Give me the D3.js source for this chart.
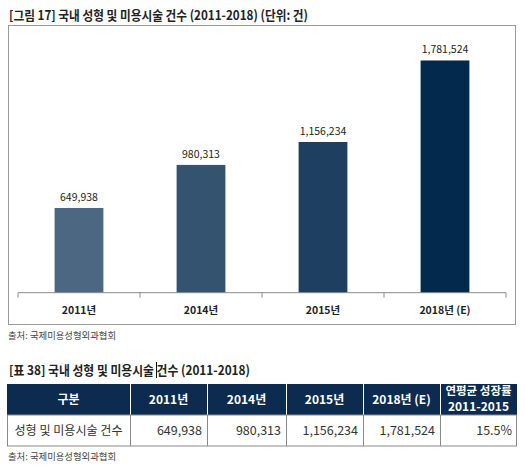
<!DOCTYPE html>
<html>
<head>
<meta charset="utf-8">
<script src="https://cdn.jsdelivr.net/npm/d3@7"></script>
<style>
  html, body { margin: 0; padding: 0; background: #fff; }
  svg { display: block; }
  text { font-family: "Noto Sans CJK KR", "Noto Sans", sans-serif; }
</style>
</head>
<body>
<svg id="chart" width="525" height="472"></svg>
<script>
// ---- data ----
const categories = ["2011년", "2014년", "2015년", "2018년 (E)"];
const values = [649938, 980313, 1156234, 1781524];
const barColors = ["#4b6782", "#33536f", "#1e3f5f", "#03294d"];
const tableHeaders = ["구분", "2011년", "2014년", "2015년", "2018년 (E)", "연평균 성장률|2011-2015"];
const tableRowLabel = "성형 및 미용시술 건수";
const tableValues = ["649,938", "980,313", "1,156,234", "1,781,524", "15.5%"];
const chartTitle = "[그림 17] 국내 성형 및 미용시술 건수 (2011-2018) (단위: 건)";
const tableTitle = "[표 38] 국내 성형 및 미용시술 건수 (2011-2018)";
const sourceText = "출처: 국제미용성형외과협회";

const svg = d3.select("#chart");
const fmt = d3.format(",");

// ---- chart title ----
svg.append("text").attr("x", 9).attr("y", 20)
  .attr("font-size", 13).attr("font-weight", 700).attr("fill", "#222")
  .attr("textLength", 299).attr("lengthAdjust", "spacingAndGlyphs")
  .text(chartTitle);

// ---- chart frame ----
svg.append("rect").attr("x", 8.5).attr("y", 25.5).attr("width", 507).attr("height", 299)
  .attr("fill", "none").attr("stroke", "#9a9a9a").attr("stroke-width", 1);

// ---- scales ----
const x = d3.scaleBand().domain(categories).range([18, 506]).paddingInner(0.6).paddingOuter(0.3);
const y = d3.scaleLinear().domain([0, 2000000]).range([292.7, 32]);

// bars
svg.append("g").selectAll("rect").data(values).join("rect")
  .attr("x", (d, i) => x(categories[i]))
  .attr("y", d => y(d))
  .attr("width", x.bandwidth())
  .attr("height", d => y(0) - y(d))
  .attr("fill", (d, i) => barColors[i]);

// value labels
svg.append("g").selectAll("text").data(values).join("text")
  .attr("x", (d, i) => x(categories[i]) + x.bandwidth() / 2)
  .attr("y", d => y(d) - 7)
  .attr("text-anchor", "middle").attr("font-size", 10.5).attr("fill", "#222")
  .attr("font-family", "'Open Sans', 'Noto Sans', sans-serif")
  .text(d => fmt(d));

// x axis
const axisBand = d3.scaleBand().domain(categories).range([18, 506]);
const axisG = svg.append("g").attr("transform", `translate(0,${y(0)})`);
axisG.append("line").attr("x1", 18).attr("x2", 506).attr("stroke", "#8a8a8a");
const tickXs = categories.map(c => axisBand(c)).concat([506]);
axisG.selectAll("line.tick").data(tickXs).join("line").attr("class", "tick")
  .attr("x1", d => d).attr("x2", d => d).attr("y1", 0).attr("y2", 5).attr("stroke", "#8a8a8a");
axisG.selectAll("text").data(categories).join("text")
  .attr("x", d => axisBand(d) + axisBand.bandwidth() / 2)
  .attr("y", 21.5)
  .attr("text-anchor", "middle").attr("font-size", 10.5).attr("font-weight", 700).attr("fill", "#222")
  .text(d => d);

// source 1
svg.append("text").attr("x", 8).attr("y", 339)
  .attr("font-size", 9.5).attr("fill", "#444")
  .attr("textLength", 108).attr("lengthAdjust", "spacingAndGlyphs")
  .text(sourceText);

// ---- table title ----
svg.append("text").attr("x", 9).attr("y", 375)
  .attr("font-size", 13).attr("font-weight", 700).attr("fill", "#222")
  .attr("textLength", 241).attr("lengthAdjust", "spacingAndGlyphs")
  .text(tableTitle);
// cursor artifact
svg.append("line").attr("x1", 156.5).attr("x2", 156.5).attr("y1", 362).attr("y2", 378)
  .attr("stroke", "#111").attr("stroke-width", 1);

// ---- table ----
const colEdges = [7, 130, 207, 286, 363, 440, 517];
const headTop = 384, headBot = 415, rowBot = 446;
const tg = svg.append("g");
tg.append("rect").attr("x", colEdges[0]).attr("y", headTop)
  .attr("width", colEdges[6] - colEdges[0]).attr("height", headBot - headTop).attr("fill", "#0c2b4f");
// header separators
tg.selectAll("line.hsep").data(colEdges.slice(1, 6)).join("line").attr("class", "hsep")
  .attr("x1", d => d + 0.5).attr("x2", d => d + 0.5).attr("y1", headTop).attr("y2", headBot)
  .attr("stroke", "#ffffff").attr("stroke-width", 1);
// header text
tableHeaders.forEach((h, i) => {
  const cx = (colEdges[i] + colEdges[i + 1]) / 2;
  const parts = h.split("|");
  if (parts.length === 1) {
    tg.append("text").attr("x", cx).attr("y", 404).attr("text-anchor", "middle")
      .attr("font-size", 12).attr("font-weight", 700).attr("fill", "#fff").text(h);
  } else {
    tg.append("text").attr("x", cx).attr("y", 395).attr("text-anchor", "middle")
      .attr("font-size", 11.5).attr("font-weight", 700).attr("fill", "#fff").text(parts[0]);
    tg.append("text").attr("x", cx).attr("y", 411).attr("text-anchor", "middle")
      .attr("font-size", 12).attr("font-weight", 700).attr("fill", "#fff").text(parts[1]);
  }
});
// data row borders
tg.append("rect").attr("x", colEdges[0] + 0.5).attr("y", headBot)
  .attr("width", colEdges[6] - colEdges[0] - 1).attr("height", rowBot - headBot)
  .attr("fill", "none").attr("stroke", "#8a8a8a");
tg.selectAll("line.dsep").data(colEdges.slice(1, 6)).join("line").attr("class", "dsep")
  .attr("x1", d => d + 0.5).attr("x2", d => d + 0.5).attr("y1", headBot).attr("y2", rowBot)
  .attr("stroke", "#8a8a8a");
// data row text
tg.append("text").attr("x", (colEdges[0] + colEdges[1]) / 2).attr("y", 435)
  .attr("text-anchor", "middle").attr("font-size", 12.5).attr("fill", "#333")
  .attr("textLength", 108).attr("lengthAdjust", "spacingAndGlyphs")
  .text(tableRowLabel);
tableValues.forEach((v, i) => {
  tg.append("text").attr("x", colEdges[i + 2] - 5).attr("y", 435)
    .attr("text-anchor", "end").attr("font-size", 12.5).attr("fill", "#333")
    .attr("font-family", "'Open Sans', 'Noto Sans', sans-serif")
    .text(v);
});

// source 2
svg.append("text").attr("x", 8).attr("y", 460)
  .attr("font-size", 9.5).attr("fill", "#444")
  .attr("textLength", 108).attr("lengthAdjust", "spacingAndGlyphs")
  .text(sourceText);
</script>
</body>
</html>
